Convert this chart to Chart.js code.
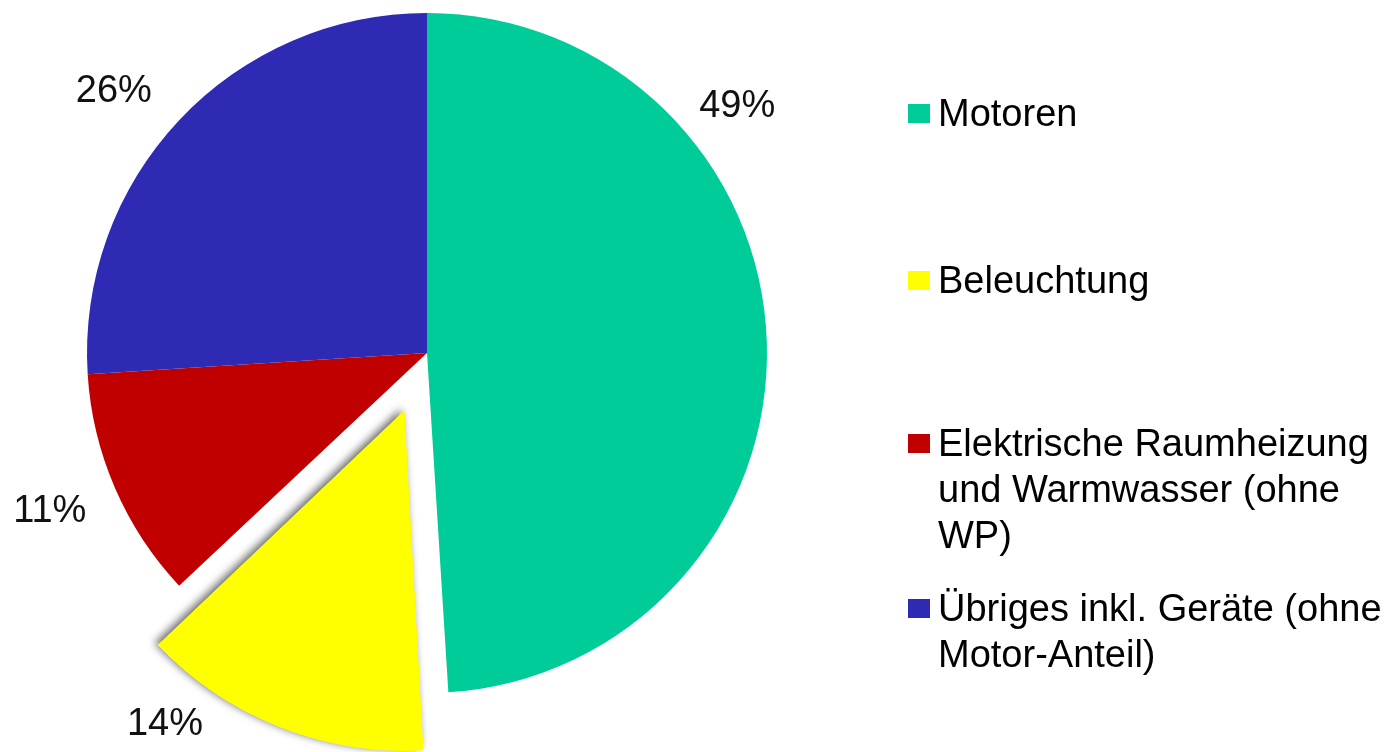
<!DOCTYPE html>
<html>
<head>
<meta charset="utf-8">
<script src="https://cdn.jsdelivr.net/npm/chart.js@4/dist/chart.umd.min.js"></script>
<style>
  html, body { margin: 0; padding: 0; background: #fff; }
  #wrap { position: relative; width: 1391px; height: 752px; }
</style>
</head>
<body>
<div id="wrap"><canvas id="pieChart"></canvas></div>
<script>
const categories = [
    'Motoren',
    'Beleuchtung',
    'Elektrische Raumheizung und Warmwasser (ohne WP)',
    'Übriges inkl. Geräte (ohne Motor-Anteil)'
];
const legendLines = [
    ['Motoren'],
    ['Beleuchtung'],
    ['Elektrische Raumheizung', 'und Warmwasser (ohne', 'WP)'],
    ['Übriges inkl. Geräte (ohne', 'Motor-Anteil)']
];
const shares = [49, 14, 11, 26];
const sliceColors = ['#00CC99', '#FFFF00', '#C00000', '#2E2AB4'];
const explodedSlice = 1;

const FONT = '38px "Liberation Sans", Arial, sans-serif';

// shrink the pulled-out slice back to the normal radius and give it a soft shadow
const sliceTweaks = {
    id: 'sliceTweaks',
    afterDatasetsUpdate(chart) {
        const meta = chart.getDatasetMeta(0);
        meta.data.forEach(arc => {
            const off = (arc.options.offset || 0) / 4;
            if (!off) return;
            const fix = 1 - Math.sin(Math.min(Math.PI, arc.circumference));
            arc.outerRadius -= off * fix;
        });
    },
    beforeDatasetsDraw(chart) {
        const ctx = chart.ctx;
        const arc = chart.getDatasetMeta(0).data[explodedSlice];
        ctx.save();
        ctx.shadowColor = 'rgba(0, 0, 0, 0.6)';
        ctx.shadowBlur = 8;
        ctx.shadowOffsetX = -3;
        ctx.shadowOffsetY = -2;
        arc.draw(ctx);
        ctx.restore();
    }
};

const pctLabels = {
    id: 'pctLabels',
    afterDatasetsDraw(chart, args, opts) {
        const ctx = chart.ctx;
        const meta = chart.getDatasetMeta(0);
        ctx.save();
        ctx.font = FONT;
        ctx.fillStyle = '#111';
        ctx.textAlign = 'center';
        ctx.textBaseline = 'middle';
        meta.data.forEach((arc, i) => {
            const off = (arc.options.offset || 0) / 4;
            const mid = (arc.startAngle + arc.endAngle) / 2;
            const cx = arc.x + Math.cos(mid) * off;
            const cy = arc.y + Math.sin(mid) * off;
            const a = mid + (opts.angleShift[i] || 0) * Math.PI / 180;
            const d = opts.distance[i];
            ctx.fillText(shares[i] + '%', cx + Math.cos(a) * d, cy + Math.sin(a) * d + 3);
        });
        ctx.restore();
    }
};

const sideLegend = {
    id: 'sideLegend',
    afterDraw(chart, args, opts) {
        const ctx = chart.ctx;
        ctx.save();
        ctx.font = FONT;
        ctx.textBaseline = 'middle';
        legendLines.forEach((lines, i) => {
            const y0 = opts.rowY[i];
            ctx.fillStyle = sliceColors[i];
            ctx.fillRect(opts.x, y0 - 9, 22, 19);
            ctx.fillStyle = '#000';
            lines.forEach((t, j) => ctx.fillText(t, opts.x + 30, y0 + 3 + j * opts.lineHeight));
        });
        ctx.restore();
    }
};

new Chart(document.getElementById('pieChart'), {
    type: 'pie',
    data: {
        labels: categories,
        datasets: [{
            data: shares,
            backgroundColor: sliceColors,
            borderWidth: 0,
            offset: [0, 248, 0, 0],
            radius: 340,
            clip: false
        }]
    },
    options: {
        responsive: true,
        maintainAspectRatio: false,
        animation: false,
        layout: { padding: { left: 0, top: 0, right: 537, bottom: 46 } },
        plugins: {
            legend: { display: false },
            tooltip: { enabled: false },
            pctLabels: { distance: [398, 392, 408, 410], angleShift: [-37, 16, 1, -3] },
            sideLegend: { x: 908, rowY: [113, 280, 443, 608], lineHeight: 46 }
        }
    },
    plugins: [sliceTweaks, pctLabels, sideLegend]
});
</script>
</body>
</html>
